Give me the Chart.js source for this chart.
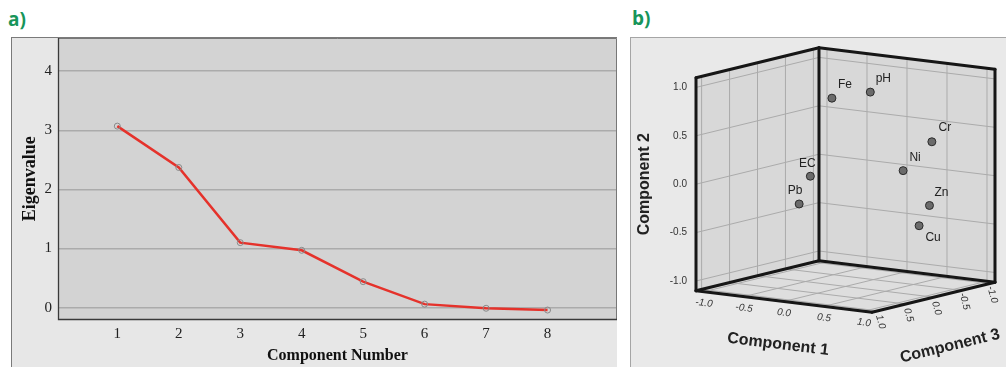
<!DOCTYPE html>
<html>
<head>
<meta charset="utf-8">
<script src="https://cdn.jsdelivr.net/npm/chart.js@4.4.1/dist/chart.umd.min.js"></script>
<style>
body{margin:0;width:1006px;height:367px;background:#fff;position:relative;overflow:hidden}
.tag{position:absolute;color:#17955a;font-family:"Open Sans",sans-serif;font-weight:700;font-size:19px;line-height:1}
#frameA{position:absolute;left:11px;top:37px;width:605px;height:330px;background:#e7e7e7;border-left:1px solid #7a7a7a;border-top:1px solid #7a7a7a}
#frameB{position:absolute;left:630px;top:37px;width:376px;height:330px;background:#e9e9e9;border-left:1px solid #a5a5a5;border-top:1px solid #a5a5a5}
#scree{position:absolute;left:12px;top:38px}
#loadings{position:absolute;left:631px;top:38px}
</style>
</head>
<body>
<div class="tag" style="left:8px;top:10px">a)</div>
<div class="tag" style="left:632px;top:9px">b)</div>
<div id="frameA"></div>
<div id="frameB"></div>
<canvas id="scree" width="605" height="329"></canvas>
<canvas id="loadings" width="375" height="329"></canvas>
<script>
// a) scree plot
const components = [1, 2, 3, 4, 5, 6, 7, 8];
const eigenvalues = [3.07, 2.37, 1.10, 0.97, 0.44, 0.06, -0.01, -0.04];
const eigenTicks = [0, 1, 2, 3, 4];

// b) component plot (rotated space)
const variables = ['Fe', 'pH', 'Cr', 'Ni', 'EC', 'Pb', 'Zn', 'Cu'];
const comp1 = [-0.03, 0.38, 0.87, 0.79, -0.09, -0.16, 0.91, 0.92];
const comp2 = [0.87, 0.96, 0.44, 0.19, 0.10, -0.18, -0.20, -0.38];
const comp3 = [0.20, 0.10, -0.30, 0.10, 0.50, 0.60, -0.20, 0.00];
const loadingTicks = [-1.0, -0.5, 0.0, 0.5, 1.0];

const serif = '"Liberation Serif", "Times New Roman", serif';
const sans = '"Liberation Sans", Arial, sans-serif';

// keep the plot box exactly where the axes say, no label padding
function noPad(s) {
    s.paddingTop = 0; s.paddingBottom = 0; s.paddingLeft = 0; s.paddingRight = 0;
}

const screeFrame = {
    id: 'screeFrame',
    beforeDraw(chart) {
        const {ctx, chartArea: a} = chart;
        ctx.save();
        ctx.fillStyle = '#d3d3d3';
        ctx.fillRect(a.left, a.top, a.right - a.left, a.bottom - a.top);
        ctx.restore();
    },
    beforeDatasetsDraw(chart) {
        const {ctx, chartArea: a} = chart;
        ctx.save();
        ctx.strokeStyle = '#777';
        ctx.lineWidth = 1;
        ctx.beginPath();
        ctx.moveTo(a.left, a.top + 0.5);
        ctx.lineTo(a.right - 0.5, a.top + 0.5);
        ctx.lineTo(a.right - 0.5, a.bottom);
        ctx.stroke();
        ctx.strokeStyle = '#3a3a3a';
        ctx.lineWidth = 1.3;
        ctx.beginPath();
        ctx.moveTo(a.left + 0.5, a.top);
        ctx.lineTo(a.left + 0.5, a.bottom);
        ctx.lineTo(a.right, a.bottom);
        ctx.stroke();
        ctx.restore();
    }
};

new Chart(document.getElementById('scree'), {
    type: 'line',
    data: {
        datasets: [{
            data: components.map((c, i) => ({x: c, y: eigenvalues[i]})),
            borderColor: '#e5322b',
            borderWidth: 2.5,
            tension: 0,
            pointRadius: 3,
            pointBackgroundColor: 'rgba(0,0,0,0)',
            pointBorderColor: '#8a8a8a',
            pointBorderWidth: 1
        }]
    },
    options: {
        responsive: false,
        animation: false,
        layout: {padding: 0, autoPadding: false},
        plugins: {legend: {display: false}, tooltip: {enabled: false}},
        scales: {
            x: {
                type: 'linear',
                min: 0.035,
                max: 9.13,
                afterBuildTicks: s => { s.ticks = components.map(v => ({value: v})); },
                afterFit: s => { s.height = 47.5; noPad(s); },
                grid: {display: false},
                border: {display: false},
                ticks: {color: '#222', padding: -2, font: {family: serif, size: 15}},
                title: {display: true, text: 'Component Number', color: '#111',
                    font: {family: serif, size: 16, weight: 'bold'}, padding: {top: 0, bottom: 2}}
            },
            y: {
                min: -0.2,
                max: 4.56,
                afterBuildTicks: s => { s.ticks = eigenTicks.map(v => ({value: v})); },
                afterFit: s => { s.width = 46; noPad(s); },
                grid: {color: '#ababab', lineWidth: 1.5, drawTicks: false},
                border: {display: false},
                ticks: {color: '#222', padding: 6, font: {family: serif, size: 15}},
                title: {display: true, text: 'Eigenvalue', color: '#111',
                    font: {family: serif, size: 18, weight: 'bold'}, padding: {top: 8, bottom: 0}}
            }
        }
    },
    plugins: [screeFrame]
});

// projection of the three component axes onto the picture plane
const LIM = 1.1;
function proj(c1, c2, c3) {
    return {x: 0.80 * c1 - 0.559 * c3, y: 0.968 * c2 - 0.0977 * c1 - 0.1364 * c3};
}

const labelPos = {Fe: [13, -13], pH: [13, -13], Cr: [13, -14], Ni: [12, -13],
    EC: [-3, -13], Pb: [-4, -13], Zn: [12, -13], Cu: [14, 12]};

const box3d = {
    id: 'box3d',
    beforeDatasetsDraw(chart) {
        const {ctx, scales: {x, y}} = chart;
        const P = (a, b, c) => { const q = proj(a, b, c); return [x.getPixelForValue(q.x), y.getPixelForValue(q.y)]; };
        const poly = (pts, fill) => {
            ctx.beginPath();
            pts.forEach((p, i) => i ? ctx.lineTo(p[0], p[1]) : ctx.moveTo(p[0], p[1]));
            ctx.closePath();
            ctx.fillStyle = fill;
            ctx.fill();
        };
        const line = (p, q) => { ctx.beginPath(); ctx.moveTo(p[0], p[1]); ctx.lineTo(q[0], q[1]); ctx.stroke(); };
        const L = LIM;
        ctx.save();
        // walls and floor
        poly([P(-L, -L, L), P(-L, -L, -L), P(-L, L, -L), P(-L, L, L)], '#d8d8d8');
        poly([P(-L, -L, -L), P(L, -L, -L), P(L, L, -L), P(-L, L, -L)], '#d8d8d8');
        poly([P(-L, -L, L), P(L, -L, L), P(L, -L, -L), P(-L, -L, -L)], '#dedede');
        // grid lines
        ctx.strokeStyle = '#ababab';
        ctx.lineWidth = 1;
        loadingTicks.forEach(t => {
            line(P(-L, t, L), P(-L, t, -L));
            line(P(-L, t, -L), P(L, t, -L));
            line(P(-L, -L, t), P(-L, L, t));
            line(P(t, -L, -L), P(t, L, -L));
            line(P(t, -L, L), P(t, -L, -L));
            line(P(-L, -L, t), P(L, -L, t));
        });
        // box edges
        ctx.strokeStyle = '#161616';
        ctx.lineWidth = 3;
        ctx.lineCap = 'round';
        ctx.lineJoin = 'round';
        [[P(-L, -L, L), P(-L, L, L)], [P(-L, L, L), P(-L, L, -L)], [P(-L, L, -L), P(-L, -L, -L)],
         [P(-L, L, -L), P(L, L, -L)], [P(L, L, -L), P(L, -L, -L)], [P(-L, -L, L), P(L, -L, L)],
         [P(L, -L, L), P(L, -L, -L)], [P(-L, -L, L), P(-L, -L, -L)], [P(-L, -L, -L), P(L, -L, -L)]]
            .forEach(e => line(e[0], e[1]));
        // tick labels
        ctx.fillStyle = '#333';
        ctx.font = '10px ' + sans;
        ctx.textBaseline = 'middle';
        ctx.textAlign = 'right';
        loadingTicks.forEach(t => {
            const p = P(-L, t, L);
            ctx.fillText(t.toFixed(1), p[0] - 9, p[1]);
        });
        const a1 = Math.atan2(P(L, -L, L)[1] - P(-L, -L, L)[1], P(L, -L, L)[0] - P(-L, -L, L)[0]);
        const a3 = Math.atan2(P(L, -L, -L)[1] - P(L, -L, L)[1], P(L, -L, -L)[0] - P(L, -L, L)[0]);
        ctx.textAlign = 'center';
        ctx.font = 'italic 10px ' + sans;
        loadingTicks.forEach(t => {
            const p = P(t, -L, L);
            ctx.save(); ctx.translate(p[0], p[1] + 11.5); ctx.rotate(a1);
            ctx.fillText(t.toFixed(1), 0, 0); ctx.restore();
            const q = P(L, -L, t);
            ctx.save(); ctx.translate(q[0] + 3, q[1] + 11); ctx.rotate(75 * Math.PI / 180);
            ctx.fillText(t.toFixed(1), 0, 0); ctx.restore();
        });
        // axis titles
        ctx.fillStyle = '#222';
        ctx.font = 'bold 16px ' + sans;
        let p = P(-L, 0, L);
        ctx.save(); ctx.translate(p[0] - 51, p[1]); ctx.rotate(-Math.PI / 2);
        ctx.fillText('Component 2', 0, 0); ctx.restore();
        p = P(0, -L, L);
        ctx.save(); ctx.translate(p[0] - 6, p[1] + 43); ctx.rotate(a1);
        ctx.fillText('Component 1', 0, 0); ctx.restore();
        p = P(L, -L, 0);
        ctx.save(); ctx.translate(p[0] + 16.5, p[1] + 49); ctx.rotate(a3);
        ctx.fillText('Component 3', 0, 0); ctx.restore();
        ctx.restore();
    },
    afterDatasetsDraw(chart) {
        const {ctx} = chart;
        const meta = chart.getDatasetMeta(0);
        ctx.save();
        ctx.fillStyle = '#222';
        ctx.font = '12px ' + sans;
        ctx.textAlign = 'center';
        ctx.textBaseline = 'middle';
        meta.data.forEach((pt, i) => {
            const o = labelPos[variables[i]];
            ctx.fillText(variables[i], pt.x + o[0], pt.y + o[1]);
        });
        ctx.restore();
    }
};

new Chart(document.getElementById('loadings'), {
    type: 'scatter',
    data: {
        datasets: [{
            data: variables.map((v, i) => proj(comp1[i], comp2[i], comp3[i])),
            pointRadius: 4,
            backgroundColor: '#6b6b6b',
            borderColor: '#2b2b2b',
            borderWidth: 1
        }]
    },
    options: {
        responsive: false,
        animation: false,
        layout: {padding: 0, autoPadding: false},
        plugins: {legend: {display: false}, tooltip: {enabled: false}},
        scales: {
            x: {type: 'linear', display: false, min: -2.145, max: 1.605},
            y: {type: 'linear', display: false, min: -1.8705, max: 1.4195}
        }
    },
    plugins: [box3d]
});
</script>
</body>
</html>
